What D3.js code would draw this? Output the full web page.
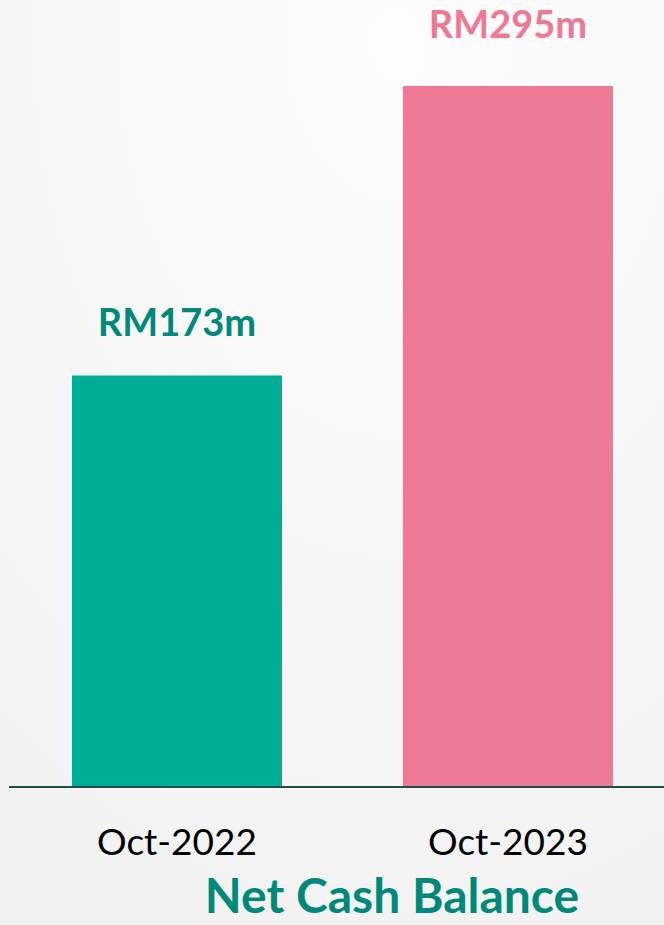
<!DOCTYPE html>
<html lang="en">
  <head>
    <meta charset="utf-8">
    <title>Net Cash Balance</title>
    <script type="text/javascript" src="https://cdn.jsdelivr.net/npm/d3@7"></script>
    <style>
    html, body { margin: 0; padding: 0; }
    svg { display: block; }
    </style>
  </head>
  <body>
    <script type="text/javascript">
      // data
      var periods = ["Oct-2022", "Oct-2023"];
      var netCash = [173, 295];
      var valueLabels = ["RM173m", "RM295m"];
      var barColors = ["#00ae97", "#ef7895"];
      var labelColors = ["#00897a", "#ef7895"];
      var title = "Net Cash Balance";

      var w = 664;
      var h = 925;
      var baseY = 786;

      var svg = d3.select("body")
                  .append("svg")
                  .attr("width", w)
                  .attr("height", h);

      // soft grey background
      var defs = svg.append("defs");
      var grad = defs.append("radialGradient")
                     .attr("id", "bg")
                     .attr("cx", "60%").attr("cy", "5%").attr("r", "120%");
      grad.append("stop").attr("offset", "0%").attr("stop-color", "#fdfdfd");
      grad.append("stop").attr("offset", "100%").attr("stop-color", "#f0f0f0");
      svg.append("rect")
         .attr("width", w).attr("height", h)
         .attr("fill", "url(#bg)");

      var x = d3.scaleBand()
                .domain(periods)
                .range([12, 673])
                .paddingInner(0.3656)
                .paddingOuter(0.1813);

      var y = d3.scaleLinear()
                .domain([0, 295])
                .range([baseY, 86]);

      svg.selectAll("rect.bar")
         .data(netCash)
         .enter()
         .append("rect")
         .attr("class", "bar")
         .attr("x", function(d, i){ return x(periods[i]); })
         .attr("y", function(d){ return y(d); })
         .attr("width", x.bandwidth())
         .attr("height", function(d){ return baseY - y(d); })
         .attr("fill", function(d, i){ return barColors[i]; });

      // value labels above the bars
      var maxVal = d3.max(netCash);
      svg.selectAll("text.value")
         .data(netCash)
         .enter()
         .append("text")
         .attr("class", "value")
         .text(function(d, i){ return valueLabels[i]; })
         .attr("x", function(d, i){ return x(periods[i]) + x.bandwidth() / 2; })
         .attr("y", function(d){ return y(d) - (d === maxVal ? 48 : 39); })
         .attr("text-anchor", "middle")
         .attr("font-family", "Lato, 'Open Sans', sans-serif")
         .attr("font-weight", "bold")
         .attr("font-size", "38px")
         .attr("fill", function(d, i){ return labelColors[i]; });

      // baseline
      svg.append("line")
         .attr("x1", 9).attr("x2", w)
         .attr("y1", baseY + 1).attr("y2", baseY + 1)
         .attr("stroke", "#1d4f49")
         .attr("stroke-width", 2);

      // category axis without ticks
      var xAxis = d3.axisBottom(x).tickSize(0).tickPadding(0);
      var gx = svg.append("g")
                  .attr("transform", "translate(0," + baseY + ")")
                  .call(xAxis);
      gx.select(".domain").remove();
      gx.selectAll("text")
        .attr("dy", null)
        .attr("y", 69)
        .attr("font-family", "Lato, 'Open Sans', sans-serif")
        .attr("font-size", "37px")
        .attr("fill", "#000");

      svg.append("text")
         .text(title)
         .attr("x", 392)
         .attr("y", 913)
         .attr("text-anchor", "middle")
         .attr("font-family", "Lato, 'Open Sans', sans-serif")
         .attr("font-weight", "bold")
         .attr("font-size", "48px")
         .attr("fill", "#00897a");
    </script>
  </body>
</html>
